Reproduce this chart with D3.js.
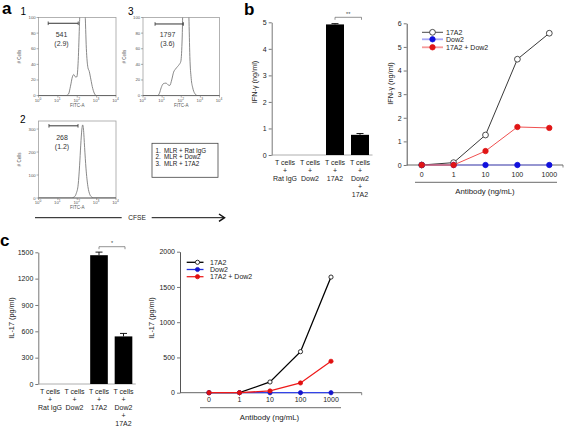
<!DOCTYPE html>
<html><head><meta charset="utf-8">
<script src="https://cdn.jsdelivr.net/npm/d3@7"></script>
<style>body{margin:0;background:#fff}svg{display:block}</style>
</head><body>
<svg id="fig" width="567" height="428"></svg>
<script>
// ---------------- DATA ----------------
// flow cytometry histograms: [log10(FITC-A), count]
const histDecades = [0, 1, 2, 3, 4];
const hist1YTicks = [0, 20, 40, 60, 80, 100];
const hist2YTicks = [0, 100, 200, 300];
const hist1Data = [[0,0],[1.4,0],[1.55,2],[1.65,12],[1.75,24],[1.82,27],[1.9,24],[1.98,24],[2.05,45],[2.12,95],[2.18,135],[2.3,140],[2.4,110],[2.47,60],[2.55,36],[2.62,31],[2.7,21],[2.8,9],[2.9,2],[3.0,0],[4,0]];
const hist3Data = [[0,0],[0.75,0],[0.86,3],[0.95,10],[1.05,15],[1.2,16],[1.3,14],[1.4,13],[1.5,20],[1.6,30],[1.7,34],[1.8,37],[1.9,40],[1.98,44],[2.05,75],[2.1,125],[2.3,140],[2.4,100],[2.45,50],[2.52,22],[2.6,10],[2.7,3],[2.85,0],[4,0]];
const hist2Data = [[0,0],[1.7,0],[1.85,5],[1.95,20],[2.05,60],[2.12,140],[2.18,230],[2.24,300],[2.28,318],[2.32,300],[2.38,220],[2.45,130],[2.55,50],[2.65,15],[2.75,4],[2.85,0],[4,0]];
const histCounts = ["541", "268", "1797"];
const histPercents = ["(2.9)", "(1.2)", "(3.6)"];
const histLegend = [["1.", "MLR + Rat IgG"], ["2.", "MLR + Dow2"], ["3.", "MLR + 17A2"]];

// bar charts
const barCats = ["Rat IgG", "Dow2", "17A2", "Dow2 + 17A2"];
const barLabelLines = [["T cells","+","Rat IgG"],["T cells","+","Dow2"],["T cells","+","17A2"],["T cells","+","Dow2","+","17A2"]];
const ifnBar = [0, 0, 4.92, 0.76];
const ifnBarErr = [0, 0, 0.03, 0.05];
const ifnBarTicks = [0, 1, 2, 3, 4, 5];
const il17Bar = [0, 0, 1467, 542];
const il17BarErr = [0, 0, 35, 34];
const il17BarTicks = [0, 300, 600, 900, 1200, 1500];

// dose-response line charts
const doses = ["0", "1", "10", "100", "1000"];
const seriesNames = ["17A2", "Dow2", "17A2 + Dow2"];
const ifn17A2 = [0, 0.1, 1.27, 4.48, 5.58];
const ifnDow2 = [0, 0, 0, 0, 0];
const ifnCombo = [0, 0, 0.59, 1.61, 1.57];
const ifnLineTicks = [0, 1, 2, 3, 4, 5, 6];
const il17_17A2 = [0, 0, 152, 582, 1640];
const il17Dow2 = [0, 0, 0, 0, 0];
const il17Combo = [0, 0, 25, 138, 446];
const il17LineTicks = [0, 500, 1000, 1500, 2000];

// ---------------- DRAW ----------------
const FONT = "'Liberation Sans', Arial, Helvetica, sans-serif";
const fmt = d3.format("d");
const svg = d3.select("#fig").style("font-family", FONT);
svg.append("rect").attr("width", 567).attr("height", 428).attr("fill", "#fff");

function txt(g, x, y, s, size, anchor, extra) {
  const t = g.append("text").attr("x", x).attr("y", y).text(s)
    .attr("font-size", size).attr("text-anchor", anchor || "start").attr("fill", "#1a1a1a");
  if (extra) Object.entries(extra).forEach(([k, v]) => t.attr(k, v));
  return t;
}

// panel letters
[["a", 2, 14], ["b", 244, 15], ["c", 0, 246]].forEach(([s, x, y]) =>
  txt(svg, x, y, s, 17, "start", { "font-weight": "bold", fill: "#000" }));

// ---- histograms ----
function hist(cfg) {
  const g = svg.append("g");
  const x = d3.scaleLinear().domain([0, 4]).range([cfg.x0, cfg.x1]);
  const y = d3.scaleLinear().domain([0, cfg.yMax]).range([cfg.yBot, cfg.yTop]);
  const id = "clip" + cfg.id;
  svg.append("clipPath").attr("id", id).append("rect")
    .attr("x", cfg.x0).attr("y", cfg.yTop).attr("width", cfg.x1 - cfg.x0).attr("height", cfg.yBot - cfg.yTop);
  g.append("rect").attr("x", cfg.x0).attr("y", cfg.yTop).attr("width", cfg.x1 - cfg.x0)
    .attr("height", cfg.yBot - cfg.yTop).attr("fill", "none").attr("stroke", "#a0a0a0").attr("stroke-width", 0.8);
  g.append("path").datum(cfg.data).attr("clip-path", `url(#${id})`)
    .attr("d", d3.line().x(d => x(d[0])).y(d => y(d[1])).curve(d3.curveMonotoneX))
    .attr("fill", "none").attr("stroke", "#7a7a7a").attr("stroke-width", 0.9);
  g.append("line").attr("x1", cfg.x0).attr("x2", cfg.x1).attr("y1", cfg.yBot).attr("y2", cfg.yBot)
    .attr("stroke", "#555").attr("stroke-width", 0.8);
  cfg.yTicks.forEach(t => {
    g.append("line").attr("x1", cfg.x0 - 2).attr("x2", cfg.x0).attr("y1", y(t)).attr("y2", y(t)).attr("stroke", "#777").attr("stroke-width", 0.6);
    txt(g, cfg.x0 - 2.8, y(t) + 1.5, String(t), 4.3, "end", { fill: "#555" });
  });
  histDecades.forEach(t => {
    g.append("line").attr("x1", x(t)).attr("x2", x(t)).attr("y1", cfg.yBot).attr("y2", cfg.yBot + 2).attr("stroke", "#777").attr("stroke-width", 0.6);
    const tt = txt(g, x(t) - 0.5, cfg.yBot + 6, "10", 4.3, "middle", { fill: "#555" });
    tt.append("tspan").attr("dy", -1.8).attr("font-size", 3.3).text(String(t));
  });
  txt(g, x(2), cfg.yBot + 11, "FITC-A", 4.5, "middle", { fill: "#555" });
  txt(g, 0, 0, "# Cells", 4.5, "middle", { fill: "#555", transform: `translate(${cfg.x0 - 17.5},${(cfg.yTop + cfg.yBot) / 2}) rotate(-90)` });
  // gate
  const gy = y(cfg.gateY);
  g.append("line").attr("x1", x(cfg.gate[0])).attr("x2", x(cfg.gate[1])).attr("y1", gy).attr("y2", gy).attr("stroke", "#333").attr("stroke-width", 1);
  cfg.gate.forEach(v => g.append("line").attr("x1", x(v)).attr("x2", x(v)).attr("y1", gy - 1.8).attr("y2", gy + 1.8).attr("stroke", "#333").attr("stroke-width", 0.8));
  txt(g, cfg.numX, cfg.numY, cfg.count, 7, "middle", { fill: "#333" });
  txt(g, cfg.numX, cfg.numY + 9, cfg.pct, 7, "middle", { fill: "#333" });
  txt(g, cfg.labX, cfg.labY, cfg.label, 10, "start", { fill: "#000" });
}
hist({ id: 1, x0: 38.5, x1: 116, yTop: 17.5, yBot: 95.6, yMax: 100, yTicks: hist1YTicks, data: hist1Data,
  gate: [0.5, 2.05], gateY: 92.6, count: histCounts[0], pct: histPercents[0], numX: 61.5, numY: 37, label: "1", labX: 20.5, labY: 15 });
hist({ id: 3, x0: 143, x1: 219.5, yTop: 17.5, yBot: 95.6, yMax: 100, yTicks: hist1YTicks, data: hist3Data,
  gate: [0.63, 2.11], gateY: 91.7, count: histCounts[2], pct: histPercents[2], numX: 167.5, numY: 37, label: "3", labX: 128, labY: 15 });
hist({ id: 2, x0: 38.5, x1: 116, yTop: 121, yBot: 198, yMax: 335, yTicks: hist2YTicks, data: hist2Data,
  gate: [0.54, 2.04], gateY: 314, count: histCounts[1], pct: histPercents[1], numX: 62, numY: 140, label: "2", labX: 20, labY: 123 });

// legend box for panel a
(function () {
  const g = svg.append("g");
  g.append("rect").attr("x", 152).attr("y", 143.3).attr("width", 66).attr("height", 34)
    .attr("fill", "none").attr("stroke", "#444").attr("stroke-width", 0.8);
  histLegend.forEach((r, i) => {
    txt(g, 155.5, 152.7 + i * 6.7, r[0], 6.3, "start", { fill: "#222" });
    txt(g, 164, 152.7 + i * 6.7, r[1], 6.3, "start", { fill: "#222" });
  });
})();

// CFSE arrow
(function () {
  const g = svg.append("g");
  g.append("line").attr("x1", 35).attr("x2", 121.7).attr("y1", 217.7).attr("y2", 217.7).attr("stroke", "#111").attr("stroke-width", 1);
  g.append("line").attr("x1", 151.7).attr("x2", 223.5).attr("y1", 217.7).attr("y2", 217.7).attr("stroke", "#111").attr("stroke-width", 1);
  g.append("path").attr("d", "M219,214 L224.5,217.7 L219,221.4").attr("fill", "none").attr("stroke", "#111").attr("stroke-width", 1.5);
  txt(g, 137, 220.2, "CFSE", 6.6, "middle", { fill: "#222" });
})();

// ---- bar charts ----
function barChart(cfg) {
  const g = svg.append("g");
  const x = d3.scaleBand().domain(barCats).range(cfg.xRange).paddingInner(0.28).paddingOuter(0.14);
  const y = d3.scaleLinear().domain(cfg.yDomain).range(cfg.yRange);
  const ax = g.append("g").attr("transform", `translate(${cfg.axisX},0)`)
    .call(d3.axisLeft(y).tickValues(cfg.yTicks).tickFormat(fmt).tickSize(3).tickPadding(2).tickSizeOuter(0));
  ax.select(".domain").attr("stroke", "#777").attr("stroke-width", 1);
  ax.selectAll(".tick line").attr("stroke", "#555").attr("stroke-width", 0.8);
  ax.selectAll(".tick text").attr("font-size", 7).attr("fill", "#222").attr("font-family", FONT);
  g.append("line").attr("x1", cfg.axisX).attr("x2", cfg.xRange[1]).attr("y1", y(0)).attr("y2", y(0)).attr("stroke", "#999").attr("stroke-width", 0.8);
  g.selectAll(".bar").data(cfg.values).join("rect")
    .attr("x", (d, i) => x(barCats[i])).attr("width", x.bandwidth())
    .attr("y", d => y(d)).attr("height", d => y(0) - y(d)).attr("fill", "#000");
  cfg.values.forEach((v, i) => {
    const e = cfg.errs[i];
    if (!e) return;
    const cx = x(barCats[i]) + x.bandwidth() / 2;
    g.append("line").attr("x1", cx).attr("x2", cx).attr("y1", y(v)).attr("y2", y(v + e)).attr("stroke", "#000").attr("stroke-width", 0.9);
    g.append("line").attr("x1", cx - 3.5).attr("x2", cx + 3.5).attr("y1", y(v + e)).attr("y2", y(v + e)).attr("stroke", "#000").attr("stroke-width", 0.9);
  });
  barLabelLines.forEach((lines, i) => {
    const cx = x(barCats[i]) + x.bandwidth() / 2;
    lines.forEach((s, j) => txt(g, cx, cfg.labelY + j * cfg.lineH, s, 7, "middle", { fill: "#222" }));
  });
  // significance bracket between bars 3 and 4
  const c3 = x(barCats[2]) + x.bandwidth() / 2, c4 = x(barCats[3]) + x.bandwidth() / 2 + 1.5;
  g.append("path").attr("d", `M${c3},${cfg.brY + 2.5} V${cfg.brY} H${c4} V${cfg.brY + 2.5}`)
    .attr("fill", "none").attr("stroke", "#666").attr("stroke-width", 0.7);
  txt(g, (c3 + c4) / 2, cfg.brY - 1.5, cfg.sig, 5.5, "middle", { fill: "#444" });
  txt(g, 0, 0, cfg.ylabel, 7.3, "middle", { fill: "#222", transform: `translate(${cfg.ylabX},${cfg.ylabY}) rotate(-90)` });
}
barChart({ xRange: [272.5, 372.5], axisX: 271.7, yDomain: [0, 5], yRange: [155, 22.3], yTicks: ifnBarTicks,
  values: ifnBar, errs: ifnBarErr, labelY: 165, lineH: 8, brY: 17.3, sig: "**", ylabel: "IFN-\u03b3 (ng/ml)", ylabX: 256.5, ylabY: 82 });
barChart({ xRange: [37.75, 135.75], axisX: 38.3, yDomain: [0, 1500], yRange: [384, 252.3], yTicks: il17BarTicks,
  values: il17Bar, errs: il17BarErr, labelY: 394, lineH: 8, brY: 246.7, sig: "*", ylabel: "IL-17 (pg/ml)", ylabX: 14, ylabY: 318 });

// ---- line charts ----
function lineChart(cfg) {
  const g = svg.append("g");
  const x = d3.scalePoint().domain(doses).range(cfg.xRange);
  const y = d3.scaleLinear().domain(cfg.yDomain).range(cfg.yRange);
  const ax = g.append("g").attr("transform", `translate(${cfg.axisX},0)`)
    .call(d3.axisLeft(y).tickValues(cfg.yTicks).tickFormat(fmt).tickSize(3).tickPadding(2).tickSizeOuter(0));
  ax.select(".domain").attr("stroke", "#555").attr("stroke-width", 1);
  ax.selectAll(".tick line").attr("stroke", "#555").attr("stroke-width", 0.8);
  ax.selectAll(".tick text").attr("font-size", 7).attr("fill", "#222").attr("font-family", FONT);
  const y0 = y(0);
  g.append("line").attr("x1", cfg.axisX).attr("x2", cfg.axisEnd).attr("y1", y0).attr("y2", y0).attr("stroke", "#666").attr("stroke-width", 1);
  doses.concat(["end"]).forEach(d => {
    const xx = d === "end" ? cfg.axisEnd : x(d);
    g.append("line").attr("x1", xx).attr("x2", xx).attr("y1", y0).attr("y2", y0 + 2.5).attr("stroke", "#666").attr("stroke-width", 0.8);
  });
  doses.forEach(d => txt(g, x(d), cfg.tickLabelY, d, 7, "middle", { fill: "#222" }));
  g.append("line").attr("x1", cfg.under[0]).attr("x2", cfg.under[1]).attr("y1", cfg.under[2]).attr("y2", cfg.under[2])
    .attr("stroke", "#888").attr("stroke-width", 1.2);
  txt(g, (cfg.under[0] + cfg.under[1]) / 2 - 1, cfg.titleY, "Antibody (ng/mL)", 7.8, "middle", { fill: "#222" });
  txt(g, 0, 0, cfg.ylabel, 7.3, "middle", { fill: "#222", transform: `translate(${cfg.ylabX},${cfg.ylabY}) rotate(-90)` });
  const line = d3.line().x((d, i) => x(doses[i])).y(d => y(d));
  cfg.series.forEach(s => {
    g.append("path").datum(s.vals).attr("d", line).attr("fill", "none").attr("stroke", s.stroke).attr("stroke-width", s.w);
    g.selectAll(null).data(s.vals).join("circle")
      .attr("cx", (d, i) => x(doses[i])).attr("cy", d => y(d)).attr("r", s.r)
      .attr("fill", s.fill).attr("stroke", s.mstroke).attr("stroke-width", 0.8);
  });
  const L = cfg.legend;
  cfg.series.forEach((s, i) => {
    const ly = L.ys[i];
    g.append("line").attr("x1", L.x0).attr("x2", L.x1).attr("y1", ly).attr("y2", ly).attr("stroke", s.lstroke).attr("stroke-width", s.lw);
    g.append("circle").attr("cx", L.mx).attr("cy", ly).attr("r", s.r).attr("fill", s.fill).attr("stroke", s.mstroke).attr("stroke-width", 0.8);
    txt(g, L.tx, ly + 2.5, seriesNames[i], 7, "start", { fill: "#222" });
  });
}
lineChart({ xRange: [421.7, 549.3], axisX: 406.7, axisEnd: 563, yDomain: [0, 6], yRange: [165, 23.3], yTicks: ifnLineTicks,
  tickLabelY: 176.5, under: [415, 557, 182.3], titleY: 194, ylabel: "IFN-\u03b3 (ng/ml)", ylabX: 393, ylabY: 83.5,
  legend: { x0: 422, x1: 443, mx: 432.5, tx: 446, ys: [32.3, 39.3, 47.3] },
  series: [
    { vals: ifn17A2, stroke: "#222", w: 0.9, r: 2.9, fill: "#fff", mstroke: "#222", lstroke: "#333", lw: 0.9 },
    { vals: ifnDow2, stroke: "#7b7bf0", w: 1.1, r: 2.7, fill: "#1010dd", mstroke: "#1010dd", lstroke: "#a9a9f5", lw: 1.8 },
    { vals: ifnCombo, stroke: "#f05050", w: 1, r: 2.7, fill: "#e01515", mstroke: "#e01515", lstroke: "#f59a9a", lw: 1.8 }
  ] });
lineChart({ xRange: [209, 331], axisX: 180, axisEnd: 361.7, yDomain: [0, 2000], yRange: [392.7, 251.7], yTicks: il17LineTicks,
  tickLabelY: 402, under: [200, 341, 407.7], titleY: 420, ylabel: "IL-17 (pg/ml)", ylabX: 154, ylabY: 318,
  legend: { x0: 186.7, x1: 203.5, mx: 197.5, tx: 210, ys: [262.3, 269.5, 276.7] },
  series: [
    { vals: il17_17A2, stroke: "#000", w: 1.3, r: 2.1, fill: "#fff", mstroke: "#000", lstroke: "#000", lw: 1.3 },
    { vals: il17Dow2, stroke: "#3344e8", w: 1.3, r: 2.1, fill: "#1515cc", mstroke: "#1515cc", lstroke: "#1f2fe0", lw: 1.3 },
    { vals: il17Combo, stroke: "#ee1a1a", w: 1.3, r: 2.1, fill: "#e01010", mstroke: "#e01010", lstroke: "#ee2222", lw: 1.3 }
  ] });
</script>
</body></html>
